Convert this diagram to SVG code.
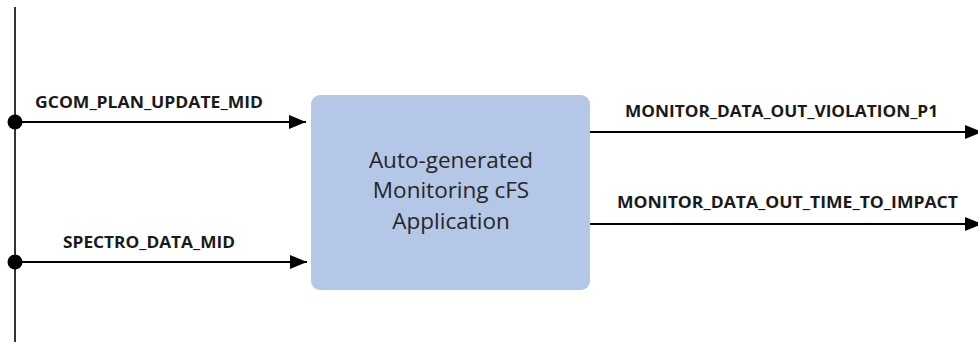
<svg xmlns="http://www.w3.org/2000/svg" width="978" height="348" viewBox="0 0 978 348">
<style>
.lbl{font-family:"Open Sans","Liberation Sans",Arial,sans-serif;font-weight:bold;font-size:15.5px;fill:#1a1a1a}
.box{font-family:"Open Sans","Liberation Sans",sans-serif;font-size:22.5px;fill:#262626}
.ln{stroke:#000;stroke-width:2;fill:none}
</style>
<defs>
<marker id="ah" markerWidth="18" markerHeight="16" refX="17" refY="8" orient="auto" markerUnits="userSpaceOnUse">
<path d="M0,1 L17,8 L0,15 Z" fill="#000"/>
</marker>
</defs>
<g id="bus">
<line x1="15" y1="7" x2="15" y2="342" stroke="#333" stroke-width="2"/>
<circle cx="15" cy="122" r="7.5" fill="#000"/>
<circle cx="15" cy="262" r="7.5" fill="#000"/>
</g>
<g id="app">
<rect x="311" y="95" width="279" height="195" rx="9" fill="#B4C7E7"/>
<text class="box" text-anchor="middle" x="451" y="168">Auto-generated</text>
<text class="box" text-anchor="middle" x="451" y="198">Monitoring cFS</text>
<text class="box" text-anchor="middle" x="451" y="229">Application</text>
</g>
<g id="connectors">
<line class="ln" x1="15" y1="122" x2="306" y2="122" marker-end="url(#ah)"/>
<text class="lbl" x="35" y="108" textLength="228" lengthAdjust="spacingAndGlyphs">GCOM_PLAN_UPDATE_MID</text>
<line class="ln" x1="15" y1="262" x2="307" y2="262" marker-end="url(#ah)"/>
<text class="lbl" x="63" y="248" textLength="172" lengthAdjust="spacingAndGlyphs">SPECTRO_DATA_MID</text>
<line class="ln" x1="590" y1="132" x2="982" y2="132" marker-end="url(#ah)"/>
<text class="lbl" x="625" y="117" textLength="313" lengthAdjust="spacingAndGlyphs">MONITOR_DATA_OUT_VIOLATION_P1</text>
<line class="ln" x1="590" y1="224" x2="982" y2="224" marker-end="url(#ah)"/>
<text class="lbl" x="617" y="208" textLength="341" lengthAdjust="spacingAndGlyphs">MONITOR_DATA_OUT_TIME_TO_IMPACT</text>
</g>
</svg>
